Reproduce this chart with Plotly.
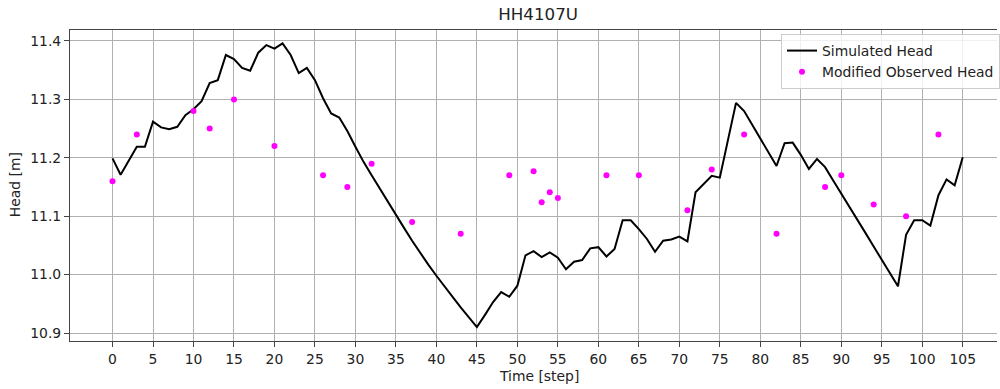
import plotly.graph_objects as go

# ---- data ----
sim_steps = list(range(0, 106))
sim_head = [
    11.199, 11.171, 11.195, 11.219, 11.219, 11.262, 11.252, 11.249, 11.253, 11.273,
    11.283, 11.297, 11.328, 11.333, 11.376, 11.369, 11.354, 11.349, 11.380, 11.393,
    11.387, 11.396, 11.376, 11.345, 11.354, 11.333, 11.302, 11.276, 11.269, 11.246,
    11.219, 11.193, 11.170, 11.147, 11.124, 11.102, 11.080, 11.058, 11.037, 11.017,
    10.998, 10.979, 10.962, 10.944, 10.927, 10.910, 10.931, 10.953, 10.970, 10.962,
    10.981, 11.033, 11.040, 11.030, 11.038, 11.029, 11.009, 11.022, 11.025, 11.045,
    11.047, 11.031, 11.044, 11.093, 11.093, 11.078, 11.061, 11.039, 11.058, 11.060,
    11.065, 11.057, 11.141, 11.155, 11.169, 11.166, 11.230, 11.294, 11.280, 11.256,
    11.232, 11.208, 11.186, 11.225, 11.226, 11.205, 11.181, 11.198, 11.184, 11.161,
    11.139, 11.116, 11.093, 11.071, 11.048, 11.025, 11.003, 10.980, 11.068, 11.093,
    11.093, 11.084, 11.136, 11.163, 11.153, 11.201,
]
obs_steps = [0, 3, 10, 12, 15, 20, 26, 29, 32, 37, 43, 49, 52, 53, 54, 55,
             61, 65, 71, 74, 78, 82, 88, 90, 94, 98, 102]
obs_head = [11.16, 11.24, 11.28, 11.25, 11.30, 11.22, 11.17, 11.15, 11.19, 11.09,
            11.07, 11.17, 11.177, 11.124, 11.141, 11.131, 11.17, 11.17, 11.11,
            11.18, 11.24, 11.07, 11.15, 11.17, 11.12, 11.10, 11.24]
x_ticks = list(range(0, 106, 5))
y_ticks = [10.9, 11.0, 11.1, 11.2, 11.3, 11.4]
y_tick_labels = ["10.9", "11.0", "11.1", "11.2", "11.3", "11.4"]

FONT = "DejaVu Sans"
TXT = "#222222"
fig = go.Figure()
fig.add_trace(go.Scatter(
    x=sim_steps, y=sim_head, mode="lines", name="Simulated Head",
    line=dict(color="black", width=2),
))
fig.add_trace(go.Scatter(
    x=obs_steps, y=obs_head, mode="markers", name="Modified Observed Head",
    marker=dict(color="#ff00ff", size=6, line=dict(width=0)),
))

fig.update_layout(
    width=1000, height=389,
    margin=dict(l=70, r=0, t=30, b=48),
    paper_bgcolor="white", plot_bgcolor="white",
    font=dict(family=FONT, size=13.9, color=TXT),
    title=dict(text="HH4107U", x=0.505, xref="paper", xanchor="center",
               y=1 - 14 / 389, yref="container", yanchor="middle",
               font=dict(family=FONT, size=16.7, color=TXT)),
    legend=dict(x=0.767, y=0.987, xanchor="left", yanchor="top",
                bgcolor="rgba(255,255,255,0.8)", bordercolor="#cccccc", borderwidth=1,
                font=dict(family=FONT, size=13.9, color=TXT)),
    showlegend=True,
    annotations=[
        dict(text="Time [step]", xref="paper", yref="paper", x=0.5054, y=-0.1125,
             xanchor="center", yanchor="middle", showarrow=False,
             font=dict(family=FONT, size=13.9, color=TXT)),
        dict(text="Head [m]", xref="paper", yref="paper", x=-0.0591, y=0.5016,
             xanchor="center", yanchor="middle", showarrow=False, textangle=-90,
             font=dict(family=FONT, size=13.9, color=TXT)),
    ],
)
fig.update_xaxes(
    range=[-5.25, 109.23], tickmode="array", tickvals=x_ticks,
    showgrid=True, gridcolor="#b0b0b0", gridwidth=1.1,
    showline=True, linecolor="#444444", linewidth=1.1, mirror=True,
    ticks="outside", ticklen=5, tickcolor="#444444", tickwidth=1.1,
    zeroline=False, automargin=False,
)
fig.update_yaxes(
    range=[10.8863, 11.4188], tickmode="array", tickvals=y_ticks, ticktext=y_tick_labels,
    showgrid=True, gridcolor="#b0b0b0", gridwidth=1.1,
    showline=True, linecolor="#444444", linewidth=1.1, mirror=False,
    ticks="outside", ticklen=5, tickcolor="#444444", tickwidth=1.1,
    zeroline=False, automargin=False,
)

fig.write_html(
    "out.html",
    config={"displayModeBar": False},
    post_script="document.body.style.margin='0';document.body.style.overflow='hidden';",
)
